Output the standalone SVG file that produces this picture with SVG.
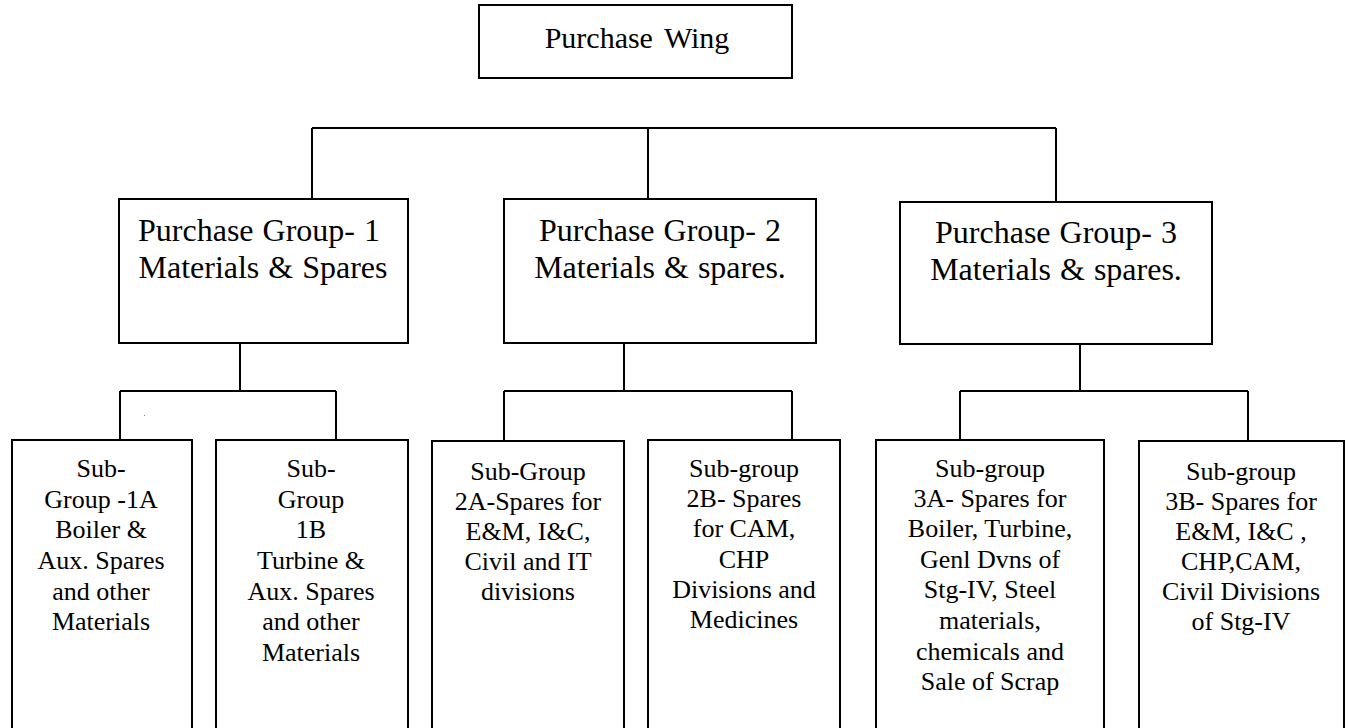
<svg xmlns="http://www.w3.org/2000/svg" width="1348" height="728" viewBox="0 0 1348 728" font-family="Liberation Serif, Times New Roman, serif">
<style>
.box{fill:#fff;stroke:#000;stroke-width:2}
.ln{fill:none;stroke:#000;stroke-width:2}
text{font-family:'Liberation Serif','Times New Roman',serif;fill:#000;text-anchor:middle}
.t1{font-size:30px;word-spacing:4px}
.t2{font-size:32px;word-spacing:1px}
.t3{font-size:26px}
</style>
<rect width="1348" height="728" fill="#fff"/>
<g id="connectors">
<path class="ln" d="M312 128H1056M312 128V199M648 128V199M1056 128V202"/>
<path class="ln" d="M240 343V391M120 391H336M120 391V440M336 391V440"/>
<path class="ln" d="M624 343V391M504 391H792M504 391V441M792 391V440"/>
<path class="ln" d="M1080 344V391M960 391H1248M960 391V440M1248 391V441"/>
</g>
<g id="purchase-wing">
<rect class="box" x="479" y="5" width="313" height="73"/>
<text class="t1" x="637" y="48">Purchase Wing</text>
</g>
<g id="group1">
<rect class="box" x="119" y="199" width="289" height="144"/>
<text class="t2" x="259" y="241">Purchase Group- 1</text>
<text class="t2" x="263" y="278">Materials &amp; Spares</text>
</g>
<g id="group2">
<rect class="box" x="504" y="199" width="312" height="144"/>
<text class="t2" x="660" y="241">Purchase Group- 2</text>
<text class="t2" x="660" y="278">Materials &amp; spares.</text>
</g>
<g id="group3">
<rect class="box" x="900" y="202" width="312" height="142"/>
<text class="t2" x="1056" y="243">Purchase Group- 3</text>
<text class="t2" x="1056" y="280">Materials &amp; spares.</text>
</g>
<rect x="144" y="415" width="1" height="1" fill="#888"/>
<g id="sub1a">
<rect class="box" x="12" y="440" width="180" height="300"/>
<text class="t3" x="101" y="477">Sub-</text>
<text class="t3" x="101" y="508">Group -1A</text>
<text class="t3" x="101" y="538">Boiler &amp;</text>
<text class="t3" x="101" y="569">Aux. Spares</text>
<text class="t3" x="101" y="600">and other</text>
<text class="t3" x="101" y="630">Materials</text>
</g>
<g id="sub1b">
<rect class="box" x="216" y="440" width="192" height="300"/>
<text class="t3" x="311" y="477">Sub-</text>
<text class="t3" x="311" y="508">Group</text>
<text class="t3" x="311" y="538">1B</text>
<text class="t3" x="311" y="569">Turbine &amp;</text>
<text class="t3" x="311" y="600">Aux. Spares</text>
<text class="t3" x="311" y="630">and other</text>
<text class="t3" x="311" y="661">Materials</text>
</g>
<g id="sub2a">
<rect class="box" x="432" y="441" width="192" height="300"/>
<text class="t3" x="528" y="480">Sub-Group</text>
<text class="t3" x="528" y="510">2A-Spares for</text>
<text class="t3" x="528" y="540">E&amp;M, I&amp;C,</text>
<text class="t3" x="528" y="570">Civil and IT</text>
<text class="t3" x="528" y="600">divisions</text>
</g>
<g id="sub2b">
<rect class="box" x="648" y="440" width="192" height="300"/>
<text class="t3" x="744" y="477">Sub-group</text>
<text class="t3" x="744" y="507">2B- Spares</text>
<text class="t3" x="744" y="537">for CAM,</text>
<text class="t3" x="744" y="568">CHP</text>
<text class="t3" x="744" y="598">Divisions and</text>
<text class="t3" x="744" y="628">Medicines</text>
</g>
<g id="sub3a">
<rect class="box" x="876" y="440" width="228" height="300"/>
<text class="t3" x="990" y="477">Sub-group</text>
<text class="t3" x="990" y="507">3A- Spares for</text>
<text class="t3" x="990" y="537">Boiler, Turbine,</text>
<text class="t3" x="990" y="568">Genl Dvns of</text>
<text class="t3" x="990" y="598">Stg-IV, Steel</text>
<text class="t3" x="990" y="629">materials,</text>
<text class="t3" x="990" y="660">chemicals and</text>
<text class="t3" x="990" y="690">Sale of Scrap</text>
</g>
<g id="sub3b">
<rect class="box" x="1139" y="441" width="205" height="300"/>
<text class="t3" x="1241" y="480">Sub-group</text>
<text class="t3" x="1241" y="510">3B- Spares for</text>
<text class="t3" x="1241" y="540">E&amp;M, I&amp;C ,</text>
<text class="t3" x="1241" y="570">CHP,CAM,</text>
<text class="t3" x="1241" y="600">Civil Divisions</text>
<text class="t3" x="1241" y="630">of Stg-IV</text>
</g>
</svg>
